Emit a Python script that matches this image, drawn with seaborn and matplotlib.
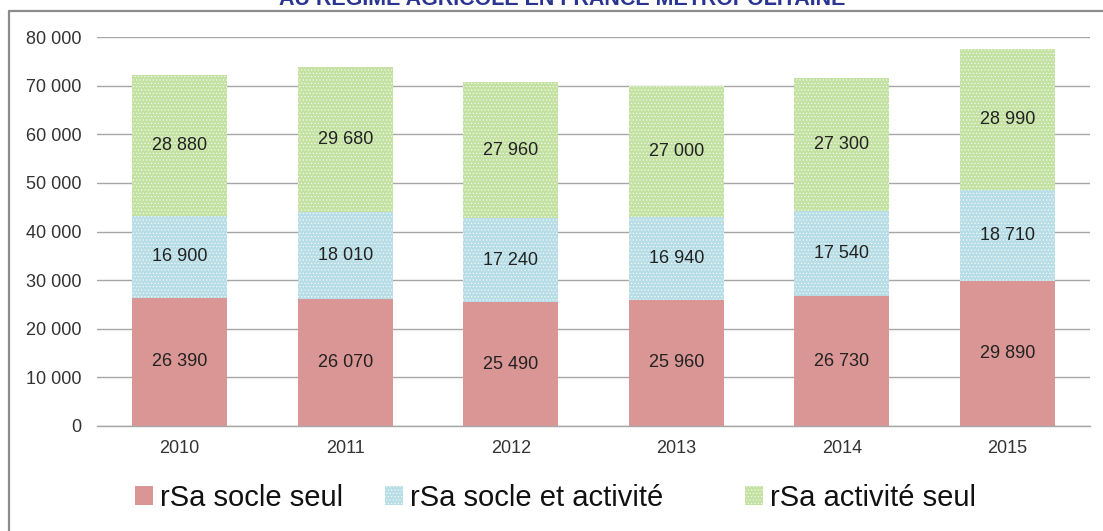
import matplotlib
matplotlib.use("Agg")
import matplotlib.pyplot as plt
from matplotlib.lines import Line2D
from matplotlib.patches import Patch
import seaborn as sns
import numpy as np

# data
years = ["2010", "2011", "2012", "2013", "2014", "2015"]
socle_seul = [26390, 26070, 25490, 25960, 26730, 29890]
socle_activite = [16900, 18010, 17240, 16940, 17540, 18710]
activite_seul = [28880, 29680, 27960, 27000, 27300, 28990]

series_names = ["rSa socle seul", "rSa socle et activité", "rSa activité seul"]
series_colors = ["#d99694", "#b7dde8", "#c3e1a1"]
series_hatch = [None, ".....", "....."]

sns.set_style("white")
plt.rcParams["font.family"] = ["Liberation Sans", "DejaVu Sans"]
plt.rcParams["hatch.linewidth"] = 0.5

W, H = 1103, 531
fig = plt.figure(figsize=(W / 100, H / 100), dpi=100)
ax = fig.add_axes([97 / W, (H - 426) / H, (1090 - 97) / W, (426 - 37) / H])

layers = np.array([socle_seul, socle_activite, activite_seul])
tops = layers.cumsum(axis=0)

# draw cumulative totals from top layer down so each layer covers the one above
for i in [2, 1, 0]:
    sns.barplot(x=years, y=tops[i], color=series_colors[i], saturation=1,
                width=0.575, edgecolor="#f4f9ee", linewidth=0,
                hatch=series_hatch[i], ax=ax, zorder=2)

# value labels centred in each segment
for i in range(3):
    bottoms = tops[i] - layers[i]
    for j, v in enumerate(layers[i]):
        ax.text(j, bottoms[j] + v / 2, f"{v:,}".replace(",", " "),
                ha="center", va="center", fontsize=13, color="#222222", zorder=3)

ax.set_ylim(0, 80000)
ax.set_yticks(range(0, 80001, 10000))
ax.set_yticklabels([f"{t:,}".replace(",", " ") for t in range(0, 80001, 10000)])
ax.yaxis.grid(True, color="#a6a6a6", linewidth=1)
ax.set_axisbelow(True)
for s in ["left", "right", "top"]:
    ax.spines[s].set_visible(False)
ax.spines["bottom"].set_color("#a6a6a6")
ax.spines["bottom"].set_linewidth(1)
ax.tick_params(axis="y", length=0, pad=11, labelsize=13, labelcolor="#333333")
ax.tick_params(axis="x", length=0, pad=10, labelsize=13, labelcolor="#333333")
ax.set_xlabel("")
ax.set_ylabel("")

# legend: one entry per series, placed where the reference puts them
legend_x = [135, 385, 745]
for name, c, h, lx in zip(series_names, series_colors, series_hatch, legend_x):
    handle = Patch(facecolor=c, edgecolor="#f4f9ee", linewidth=0, hatch=h)
    fig.legend([handle], [name], loc="center left",
               bbox_to_anchor=(lx / W, 1 - 498 / H), frameon=False,
               fontsize=21, handlelength=0.62, handleheight=0.6,
               handletextpad=0.25, borderpad=0, borderaxespad=0,
               labelcolor="#111111")

# frame and clipped title
fig.add_artist(Line2D([8.5 / W, 8.5 / W], [0, 1 - 11 / H], color="#8c8c8c",
                      linewidth=1.6, transform=fig.transFigure))
fig.add_artist(Line2D([8.5 / W, 1.0], [1 - 11 / H, 1 - 11 / H], color="#8c8c8c",
                      linewidth=1.6, transform=fig.transFigure))
fig.text(562 / W, 1 - 5 / H, "AU RÉGIME AGRICOLE EN FRANCE MÉTROPOLITAINE",
         ha="center", va="baseline", fontsize=15.5, fontweight="bold",
         color="#2a3592")

fig.savefig("out.png", dpi=100)
